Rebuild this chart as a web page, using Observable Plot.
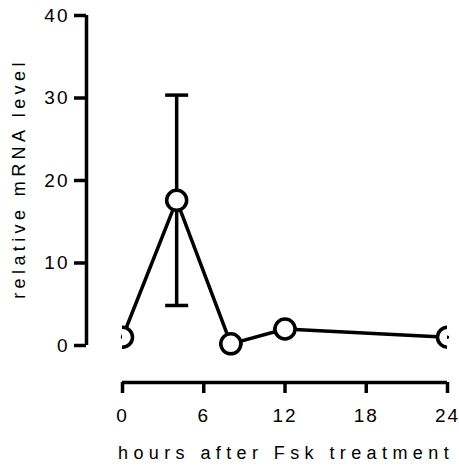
<!DOCTYPE html>
<html><head><meta charset="utf-8">
<script src="https://cdn.jsdelivr.net/npm/d3@7"></script>
<script src="https://cdn.jsdelivr.net/npm/@observablehq/plot@0.6"></script>
<style>
body{margin:0;background:#fff}
#chart svg{font-family:"Liberation Sans",Arial,sans-serif}
</style>
</head><body><div id="chart"></div>
<script>
const hours = [0, 4, 8, 12, 24];
const mrna = [1.0, 17.6, 0.2, 2.0, 1.0];
const sem = [0, 12.75, 0, 0, 0];
const xTicks = [0, 6, 12, 18, 24];
const yTicks = [0, 10, 20, 30, 40];
const xTitle = "hours after Fsk treatment";
const yTitle = "relative mRNA level";

const data = hours.map((h, i) => ({h, m: mrna[i], lo: mrna[i] - sem[i], hi: mrna[i] + sem[i]}));
const capSymbol = {draw(ctx, size) { const w = Math.sqrt(size / Math.PI); ctx.moveTo(-w, 0); ctx.lineTo(w, 0); }};

const plot = Plot.plot({
  width: 459, height: 470,
  marginLeft: 122, marginRight: 12, marginTop: 0, marginBottom: 88,
  x: {domain: [0, 24]},
  y: {domain: [0, 40], insetTop: 15, insetBottom: 37},
  style: {fontFamily: "'Liberation Sans', Arial, sans-serif", fontSize: "19px", color: "black", background: "white", overflow: "visible"},
  marks: [
    Plot.ruleX([0], {y1: 0, y2: 40, dx: -36, strokeWidth: 3.5, stroke: "black"}),
    Plot.axisY({ticks: yTicks, tickSize: 12, tickPadding: 5, dx: -36, strokeWidth: 3.5, stroke: "black", label: null, fontSize: 19, ariaDescription: "ytl"}),
    Plot.ruleY([0], {x1: 0, x2: 24, dy: 37, strokeWidth: 3.5, stroke: "black"}),
    Plot.axisX({ticks: xTicks, tickSize: 11, tickPadding: 15, strokeWidth: 3.5, stroke: "black", label: null, fontSize: 19, ariaDescription: "xtl"}),
    Plot.line(data, {x: "h", y: "m", strokeWidth: 3.5, stroke: "black"}),
    Plot.ruleX(data, {x: "h", y1: "lo", y2: "hi", strokeWidth: 3.5, stroke: "black"}),
    Plot.dot(data, {x: "h", y: "hi", symbol: capSymbol, r: 11.5, stroke: "black", strokeWidth: 3.5, fill: "none", clip: true}),
    Plot.dot(data, {x: "h", y: "lo", symbol: capSymbol, r: 11.5, stroke: "black", strokeWidth: 3.5, fill: "none", clip: true}),
    Plot.dot(data, {x: "h", y: "m", r: 10, fill: "white", stroke: "black", strokeWidth: 3.5, clip: true}),
    Plot.text([xTitle], {text: d => d, frameAnchor: "bottom", textAnchor: "middle", dy: 71, dx: 1, lineAnchor: "middle", fontSize: 18, fill: "black", ariaDescription: "xtitle"}),
    Plot.text([yTitle], {text: d => d, frameAnchor: "left", textAnchor: "middle", rotate: -90, dx: -103, dy: -13, lineAnchor: "middle", fontSize: 18, fill: "black", ariaDescription: "ytitle"})
  ]
});

// letter spacing of the texts, as in the reference
const svg = d3.select(plot);
svg.selectAll('g[aria-description="xtitle"] text').style("letter-spacing", "5.4px");
svg.selectAll('g[aria-description="ytitle"] text').style("letter-spacing", "4.4px");
svg.selectAll('g[aria-description="ytl"] text, g[aria-description="xtl"] text').style("letter-spacing", "2px");
document.getElementById("chart").appendChild(plot);
</script>
</body></html>
